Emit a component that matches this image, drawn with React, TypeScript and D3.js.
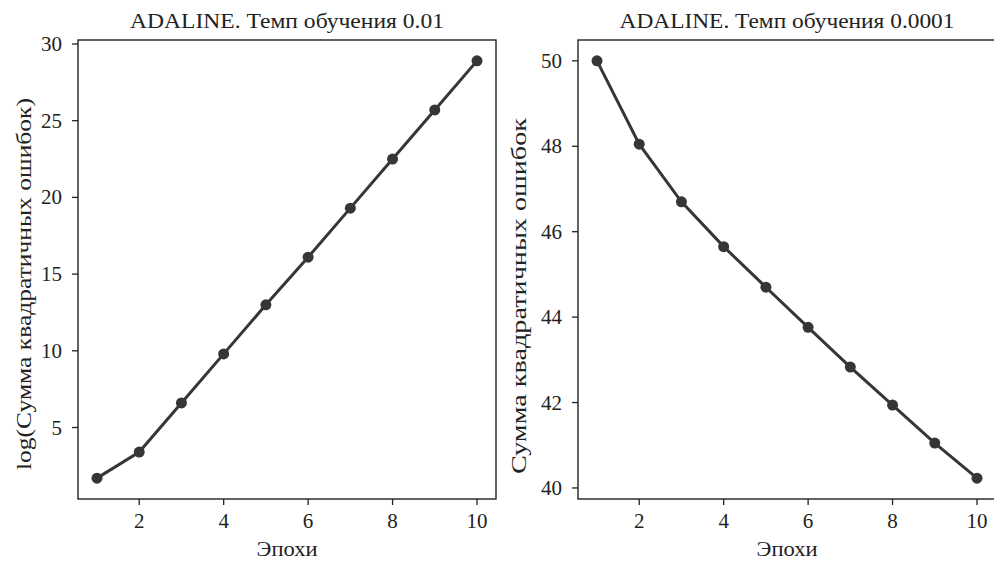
import React from "react";
import * as d3 from "d3";

const epochs = [1, 2, 3, 4, 5, 6, 7, 8, 9, 10];
const logSseLeft = [1.7, 3.4, 6.6, 9.8, 13.0, 16.1, 19.3, 22.5, 25.7, 28.9];
const sseRight = [50.0, 48.05, 46.7, 45.65, 44.7, 43.76, 42.83, 41.94, 41.05, 40.23];
const xTicks = [2, 4, 6, 8, 10];
const leftYTicks = [5, 10, 15, 20, 25, 30];
const rightYTicks = [40, 42, 44, 46, 48, 50];
const titles = ["ADALINE. Темп обучения 0.01", "ADALINE. Темп обучения 0.0001"];
const yLabels = ["log(Сумма квадратичных ошибок)", "Сумма квадратичных ошибок"];
const xLabel = "Эпохи";

const W = 994;
const H = 562;
const FONT = "'Liberation Serif', 'DejaVu Serif', serif";
const INK = "#222";
const LINE = "#363636";

type PanelProps = {
  x0: number;
  x1: number;
  values: number[];
  yTicks: number[];
  title: string;
  titleLen: number;
  yLabel: string;
  yLabelX: number;
  yLabelY: number;
  yLabelLen: number;
};

function Panel({ x0, x1, values, yTicks, title, titleLen, yLabel, yLabelX, yLabelY, yLabelLen }: PanelProps) {
  const top = 40;
  const bottom = 499;
  const ext = d3.extent(values) as [number, number];
  const pad = (ext[1] - ext[0]) * 0.05;
  const y = d3.scaleLinear().domain([ext[0] - pad, ext[1] + pad]).range([bottom, top]);
  const xpad = (10 - 1) * 0.05;
  const x = d3.scaleLinear().domain([1 - xpad, 10 + xpad]).range([x0, x1]);
  const line = d3
    .line<number>()
    .x((_, i) => x(epochs[i]))
    .y((d) => y(d));
  const cx = x(5.5);
  return (
    <g>
      <text
        x={cx}
        y={28}
        textAnchor="middle"
        fontFamily={FONT}
        fontSize={20}
        fill={INK}
        textLength={titleLen}
        lengthAdjust="spacingAndGlyphs"
      >
        {title}
      </text>
      <rect x={x0} y={top} width={x1 - x0} height={bottom - top} fill="none" stroke={INK} strokeWidth={1.4} />
      {xTicks.map((t) => (
        <g key={"x" + t}>
          <line x1={x(t)} x2={x(t)} y1={bottom} y2={bottom + 6} stroke={INK} strokeWidth={1.3} />
          <text x={x(t)} y={528} textAnchor="middle" fontFamily={FONT} fontSize={21} fill={INK}>
            {t}
          </text>
        </g>
      ))}
      {yTicks.map((t) => (
        <g key={"y" + t}>
          <line x1={x0 - 6} x2={x0} y1={y(t)} y2={y(t)} stroke={INK} strokeWidth={1.3} />
          <text x={x0 - 16} y={y(t) + 7} textAnchor="end" fontFamily={FONT} fontSize={21} fill={INK}>
            {t}
          </text>
        </g>
      ))}
      <text
        x={cx}
        y={556}
        textAnchor="middle"
        fontFamily={FONT}
        fontSize={21}
        fill={INK}
        textLength={61}
        lengthAdjust="spacingAndGlyphs"
      >
        {xLabel}
      </text>
      <text
        transform={`translate(${yLabelX},${yLabelY}) rotate(-90)`}
        textAnchor="middle"
        fontFamily={FONT}
        fontSize={21}
        fill={INK}
        textLength={yLabelLen}
        lengthAdjust="spacingAndGlyphs"
      >
        {yLabel}
      </text>
      <path d={line(values) || ""} fill="none" stroke={LINE} strokeWidth={3} />
      {values.map((v, i) => (
        <circle key={i} cx={x(epochs[i])} cy={y(v)} r={5.5} fill={LINE} />
      ))}
    </g>
  );
}

export default function App() {
  return (
    <svg width={W} height={H} style={{ position: "absolute", left: 0, top: 0, background: "#fff" }}>
      <rect width={W} height={H} fill="#fff" />
      <Panel
        x0={78}
        x1={496}
        values={logSseLeft}
        yTicks={leftYTicks}
        title={titles[0]}
        titleLen={314}
        yLabel={yLabels[0]}
        yLabelX={31}
        yLabelY={284}
        yLabelLen={372}
      />
      <Panel
        x0={578}
        x1={996}
        values={sseRight}
        yTicks={rightYTicks}
        title={titles[1]}
        titleLen={335}
        yLabel={yLabels[1]}
        yLabelX={526}
        yLabelY={296}
        yLabelLen={356}
      />
    </svg>
  );
}
